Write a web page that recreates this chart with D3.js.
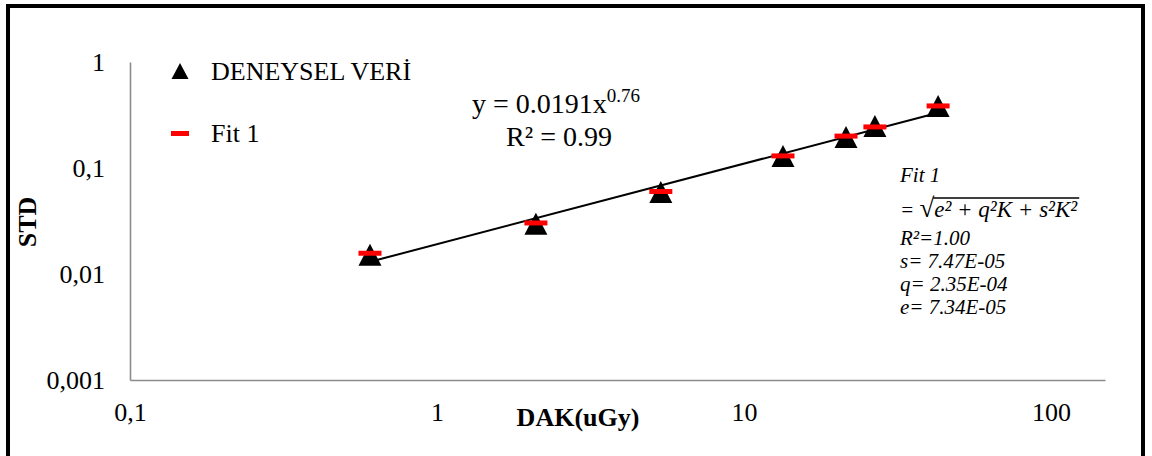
<!DOCTYPE html>
<html>
<head>
<meta charset="utf-8">
<script src="https://d3js.org/d3.v7.min.js"></script>
<style>
    body { margin: 0; background: #fff; }
</style>
</head>
<body>
<svg width="1152" height="456"></svg>
<script>
// data
let dak = [0.605, 2.10, 5.36, 13.4, 21.5, 26.7, 42.9]
let stdMeasured = [0.0152, 0.0298, 0.0594, 0.130, 0.196, 0.249, 0.385]
let stdFit = [0.0157, 0.0303, 0.0600, 0.130, 0.200, 0.244, 0.385]
let xTicks = [0.1, 1, 10, 100]
let yTicks = [0.001, 0.01, 0.1, 1]
// power trendline printed on the chart
let trendA = 0.0191, trendB = 0.76
let noteLines = ['R²=1.00', 's= 7.47E-05', 'q= 2.35E-04', 'e= 7.34E-05']

const serif = '"Liberation Serif"'

let svg = d3.select('svg').style('font-family', serif)

// outer frame
svg.append('rect')
    .attr('x', 8).attr('y', 6)
    .attr('width', 1135).attr('height', 470)
    .attr('fill', 'none')
    .attr('stroke', '#000')
    .attr('stroke-width', 4)

let x = d3.scaleLog().domain([0.1, 150]).range([130, 1105])
let y = d3.scaleLog().domain([0.001, 1]).range([380, 62])

let fmt = d => String(d).replace('.', ',')

svg.append('g')
    .attr('transform', 'translate(0,380)')
    .call(d3.axisBottom(x).tickValues(xTicks).tickSize(0).tickPadding(23).tickFormat(fmt))
svg.append('g')
    .attr('transform', 'translate(130,0)')
    .call(d3.axisLeft(y).tickValues(yTicks).tickSize(0).tickPadding(25).tickFormat(fmt))

svg.selectAll('.domain').attr('stroke', '#8c8c8c').attr('stroke-width', 1.6)
svg.selectAll('.tick text')
    .style('font-family', serif)
    .style('font-size', '26px')
    .attr('fill', '#000')

// axis titles
svg.append('text')
    .attr('x', 578).attr('y', 426)
    .attr('text-anchor', 'middle')
    .style('font-family', serif)
    .style('font-size', '26px').style('font-weight', 'bold')
    .text('DAK(uGy)')
svg.append('text')
    .attr('transform', 'translate(36,222) rotate(-90)')
    .attr('text-anchor', 'middle')
    .style('font-family', serif)
    .style('font-size', '26px').style('font-weight', 'bold')
    .text('STD')

// trendline
let x0 = d3.min(dak), x1 = d3.max(dak)
svg.append('line')
    .attr('x1', x(x0)).attr('y1', y(trendA * Math.pow(x0, trendB)))
    .attr('x2', x(x1)).attr('y2', y(trendA * Math.pow(x1, trendB)))
    .attr('stroke', '#000').attr('stroke-width', 2)

let tri = (w, h) => `M0,${-h / 2}L${w / 2},${h / 2}L${-w / 2},${h / 2}Z`

svg.selectAll('path.pt')
    .data(dak)
    .enter()
    .append('path')
    .attr('class', 'pt')
    .attr('d', tri(23, 22))
    .attr('transform', (d, i) => `translate(${x(d)},${y(stdMeasured[i])})`)
    .attr('fill', '#000')

svg.selectAll('rect.fit')
    .data(dak)
    .enter()
    .append('rect')
    .attr('class', 'fit')
    .attr('x', d => x(d) - 11.5)
    .attr('y', (d, i) => y(stdFit[i]) - 2.5)
    .attr('width', 23).attr('height', 5)
    .attr('fill', '#ff0000')

// legend
svg.append('path').attr('d', tri(17, 16)).attr('transform', 'translate(180,71)').attr('fill', '#000')
svg.append('text').attr('x', 211).attr('y', 80)
    .style('font-family', serif).style('font-size', '26px').text('DENEYSEL VERİ')
svg.append('rect').attr('x', 171).attr('y', 131).attr('width', 18).attr('height', 5).attr('fill', '#ff0000')
svg.append('text').attr('x', 211).attr('y', 142)
    .style('font-family', serif).style('font-size', '26px').text('Fit 1')

// equation label
let eq = svg.append('text').attr('x', 472).attr('y', 113)
    .style('font-family', serif).style('font-size', '28px')
eq.append('tspan').text('y = 0.0191x')
eq.append('tspan').attr('dy', -11).style('font-size', '19px').text(trendB.toFixed(2))
svg.append('text').attr('x', 559).attr('y', 146).attr('text-anchor', 'middle')
    .style('font-family', serif).style('font-size', '28px').text('R² = 0.99')

// fit note
let note = svg.append('g').attr('transform', 'translate(900,0)')
    .style('font-family', serif)
    .style('font-style', 'italic').style('font-size', '21px')
note.append('text').attr('y', 182).text('Fit 1')
let formula = note.append('text').attr('y', 217)
formula.append('tspan').text('= ')
formula.append('tspan').style('font-size', '27px').style('font-style', 'normal').text('√')
let under = formula.append('tspan').style('font-size', '23px').text('e² + q²K + s²K²')
let startX = formula.node().getSubStringLength(0, 3)
let underLen = under.node().getComputedTextLength()
note.append('line')
    .attr('x1', startX - 1).attr('x2', startX + underLen + 2)
    .attr('y1', 198).attr('y2', 198)
    .attr('stroke', '#000').attr('stroke-width', 1.4)
note.selectAll('text.ln')
    .data(noteLines)
    .enter()
    .append('text')
    .attr('class', 'ln')
    .attr('y', (d, i) => 245 + i * 23)
    .text(d => d)
</script>
</body>
</html>
